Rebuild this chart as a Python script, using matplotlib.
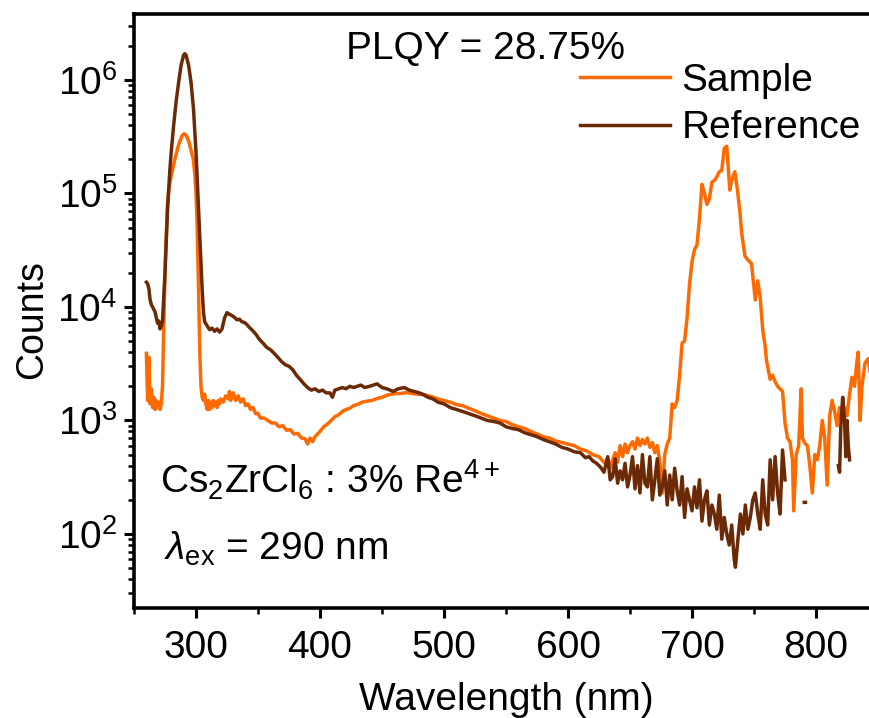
import numpy as np
import matplotlib
matplotlib.use("Agg")
import matplotlib.pyplot as plt
from matplotlib.ticker import LogLocator, MultipleLocator

plt.rcParams['font.family'] = ['Liberation Sans', 'DejaVu Sans']
plt.rcParams['mathtext.fontset'] = 'custom'
plt.rcParams['mathtext.rm'] = 'Liberation Sans'
plt.rcParams['mathtext.it'] = 'Liberation Sans:italic'
plt.rcParams['mathtext.default'] = 'regular'

nan = np.nan

# Sample emission (counts)
wl_sample = [260, 261, 262, 263, 264, 265, 266, 267, 268, 269, 270, 271, 272, 273, 273.5,
             274.5, 275.5, 276.5, 277, 278, 279, 281, 283, 285, 287, 289, 290.5, 292, 294,
             296, 297.8, 299, 300, 300.8, 301.8, 302.5, 303.2, 304, 305, 306, 307, 308, 309,
             310, 311, 312, 313, 314, 315, 316, 317, 318, 319, 320, 322, 324, 326, 327,
             328, 330, 332, 334, 336, 338, 340, 342, 344, 346, 348, 350, 352, 355, 358,
             361, 364, 367, 370, 373, 376, 379, 382, 385, 388, 390, 392, 394, 396, 398,
             400, 403, 406, 409, 412, 415, 418, 421, 424, 427, 430, 434, 438, 442, 446,
             450, 455, 460, 465, 470, 475, 480, 485, 490, 495, 500, 505, 510, 515, 520,
             525, 530, 535, 540, 545, 550, 555, 560, 565, 570, 575, 580, 585, 590, 595,
             600, 605, 610, 615, 620, 625, 628, 630, 632, 634, 636, 638, 640, 642, 644,
             646, 648, 650, 652, 654, 656, 658, 660, 662, 664, 666, 668, 670, 672, 674,
             676, 678, 680, 682, 684, 686, 688, 690, 692, 694, 696, 698, 700, 702, 704,
             706, 708, 710, 712, 714, 716, 718, 720, 722, 724, 726, 728, 729.5, 730.5,
             732, 734.5, 736.5, 738.7, 740, 742.7, 745, 748, 751, 753, 755, 757, 759,
             760, 762, 763, 765, 767, 769, 771, 773, 775, 777, 779, 781, 782, 784, 786,
             788, 789, 791, 793, 795, 797, 799, 801, 803, 805, 807, 809, 811, 813, 815,
             817, 819, 821, 823, 825, 827, 829, 831, 833, 834, 835.5, 837, 839.5, 842,
             844, 846, 848, 850]
counts_sample = [3900, 1500, 3600, 1400, 1900, 1300, 1600, 1250, 1500, 1300, 1450, 1250, 1400,
                 2000, 3600, 12000, 30000, 59000, 80000, 105000, 125000, 160000, 200000,
                 245000, 290000, 325000, 335000, 325000, 290000, 240000, 200000, 150000,
                 100000, 59000, 20000, 8000, 3600, 2000, 1600, 1500, 1700, 1400, 1250, 1500,
                 1250, 1450, 1300, 1500, 1350, 1450, 1300, 1500, 1400, 1550, 1450, 1650,
                 1550, 1800, 1500, 1750, 1500, 1650, 1450, 1550, 1350, 1400, 1250, 1300,
                 1150, 1150, 1050, 1050, 1000, 950, 950, 880, 900, 820, 830, 760, 770, 700,
                 690, 620, 700, 650, 720, 760, 800, 880, 930, 1000, 1080, 1120, 1200, 1250,
                 1280, 1350, 1380, 1450, 1480, 1500, 1560, 1600, 1680, 1720, 1730, 1760,
                 1720, 1700, 1680, 1620, 1550, 1500, 1450, 1380, 1350, 1280, 1220, 1150,
                 1100, 1050, 1000, 980, 920, 880, 850, 800, 760, 720, 700, 660, 640, 620,
                 600, 560, 540, 500, 480, 440, 420, 470, 380, 450, 520, 430, 600, 480, 620,
                 520, 600, 650, 560, 700, 600, 680, 620, 700, 580, 640, 520, 600, 430, 230,
                 500, 620, 700, 1400, 1300, 1500, 2500, 4800, 5000, 8000, 16000, 25000,
                 32000, 35000, 60000, 120000, 100000, 80000, 90000, 125000, 130000, 140000,
                 155000, 160000, 250000, 260000, 150000, 107000, 130000, 155000, 110000,
                 67000, 45000, 28000, 26000, 24000, 11500, 17000, 12000, 6300, 4500, 3400,
                 2600, 2300, 2500, 2200, 2000, 1900, 1800, 950, 700, 650, 450, 160, 500,
                 600, 1900, 700, 630, 600, 400, 230, 500, 450, 600, 1000, 700, 270, 1100,
                 1500, 1200, 900, 1300, 1000, 1300, 1100, 1700, 2400, 2000, 3300, 4000,
                 1000, 2000, 3200, 3500, 2500, 3800, 3000, 3500]

# Reference (empty sphere) counts
wl_ref = [260, 261, 262, 263, 264, 265, 266, 267, 268, 269, 270, 271, 272, 273, 274, 275,
          276, 277, 278, 279, 280, 282, 284, 286, 288, 290, 291, 292, 294, 296, 298, 300,
          301.5, 303, 304, 305, 306, 307, 309, 311, 313, 315, 317, 319, 321, 323, 325,
          327, 329, 331, 333, 335, 337, 339, 341, 343, 345, 348, 351, 354, 357, 360, 363,
          366, 369, 372, 375, 378, 381, 384, 387, 390, 393, 396, 399, 402, 405, 408, 410,
          412, 415, 418, 421, 424, 427, 430, 433, 436, 440, 443, 446, 450, 454, 459, 463,
          468, 472, 476, 480, 483, 487, 491, 495, 500, 505, 510, 515, 520, 525, 530, 535,
          540, 545, 550, 555, 560, 565, 570, 575, 580, 585, 590, 595, 600, 605, 610, 614,
          617, 620, 623, 626, 629, 632, 634, 636, 638, 640, 642, 644, 646, 648, 650, 652,
          654, 656, 658, 660, 662, 664, 666, 668, 670, 672, 674, 676, 678, 680, 682, 684,
          686, 688, 690, 692, 694, 696, 698, 700, 702, 704, 706, 708, 710, 712, 714, 716,
          718, 720, 722, 724, 726, 728, 730, 732, 734, 735, 737, 739, 741, 743, 745, 747,
          749, 751, 753, 755, 757, 759, 761, 763, 765, 767, 769, 771, 773, 775, 776,
          790.5, 791.5, 792, 818, 819, 820, 821.5, 823, 824, 825, 826, 827]
counts_ref = [16500, 16000, 14500, 11500, 10500, 10000, 9500, 9000, 8000, 7200, 7500, 6400,
              6800, 7500, 12000, 20000, 38000, 70000, 110000, 165000, 230000, 400000,
              650000, 950000, 1350000, 1650000, 1700000, 1650000, 1350000, 950000, 550000,
              230000, 100000, 45000, 25000, 14000, 9000, 7400, 6800, 6300, 6500, 6100, 6400,
              6000, 6400, 8000, 8900, 8600, 8400, 8100, 7700, 7800, 7400, 7300, 7000, 6600,
              6300, 5800, 5200, 4800, 4400, 4200, 3900, 3600, 3300, 3100, 3000, 2800, 2500,
              2300, 2100, 1950, 1850, 1900, 1800, 1850, 1750, 1750, 1600, 1850, 1900, 1950,
              1900, 2000, 1950, 2000, 2050, 1950, 2000, 2050, 2100, 1950, 1900, 1800, 1900,
              1950, 1850, 1800, 1750, 1700, 1600, 1550, 1450, 1400, 1300, 1250, 1200, 1150,
              1100, 1050, 1000, 980, 950, 880, 850, 830, 780, 750, 720, 680, 650, 620, 580,
              560, 530, 520, 470, 480, 440, 420, 390, 350, 480, 300, 320, 460, 280, 360, 300,
              420, 260, 330, 480, 250, 400, 230, 500, 280, 260, 480, 200, 300, 460, 220, 260,
              360, 180, 330, 200, 380, 240, 180, 320, 140, 250, 200, 160, 260, 170, 300, 130,
              200, 240, 120, 180, 150, 110, 220, 90, 140, 100, 80, 120, 60, 51, 90, 150, 100,
              180, 110, 140, 200, 230, 150, 110, 300, 150, 120, 450, 200, 480, 230, 150, 550,
              300, nan, 190, 190, nan, 400, 350, 900, 1600, 1000, 480, 1000, 600, 450]

c_sample = '#FF6A00'
c_ref = '#6B2A05'
fs = 28

fig = plt.figure(figsize=(8.69, 7.18), dpi=100)
ax = fig.add_axes([0.1542, 0.1532, 0.8562, 0.8273])

ax.plot(wl_sample, counts_sample, color=c_sample, lw=2.5, label='Sample')
ax.plot(wl_ref, counts_ref, color=c_ref, lw=2.5, label='Reference')

ax.set_yscale('log')
ax.set_xlim(250, 850)
ax.set_ylim(22.3, 3.8e6)
ax.xaxis.set_major_locator(MultipleLocator(100))
ax.xaxis.set_minor_locator(MultipleLocator(50))
ax.yaxis.set_minor_locator(LogLocator(base=10, subs=np.arange(2, 10), numticks=20))
ax.set_yticks([1e2, 1e3, 1e4, 1e5, 1e6])

for side in ['left', 'bottom', 'top', 'right']:
    ax.spines[side].set_linewidth(2.6)
ax.tick_params(which='major', direction='out', length=7, width=2.2, labelsize=fs, pad=5)
ax.tick_params(which='minor', direction='out', length=4, width=1.8)
ax.tick_params(axis='x', which='major', pad=9)

ax.set_xlabel('Wavelength (nm)', fontsize=fs, va='center')
ax.set_ylabel('Counts', fontsize=27, va='center')
ax.xaxis.set_label_coords(0.5, -0.155)
ax.yaxis.set_label_coords(-0.137, 0.485)

ax.text(0.473, 0.941, 'PLQY = 28.75%', transform=ax.transAxes, fontsize=fs,
        ha='center', va='center')
ax.text(0.035, 0.215, 'Cs$_2$ZrCl$_6$ : 3% Re$^{4+}$', transform=ax.transAxes,
        fontsize=fs, ha='left', va='center')
ax.text(0.04, 0.10, r'$\mathit{\lambda}_{ex}$ = 290 nm', transform=ax.transAxes,
        fontsize=fs, ha='left', va='center')

ax.legend(loc='upper left', bbox_to_anchor=(0.60, 0.918), frameon=False, fontsize=fs,
          handlelength=2.3, handletextpad=0.3, labelspacing=0.3, borderpad=0,
          borderaxespad=0)

fig.savefig('out.png', dpi=100)
